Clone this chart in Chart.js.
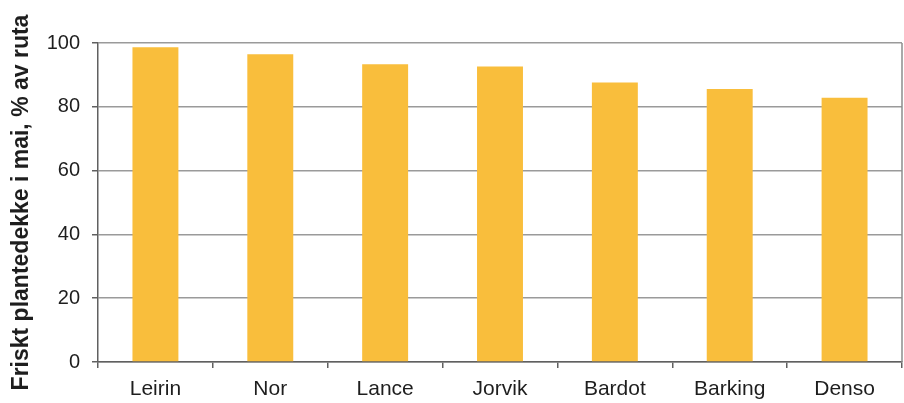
<!DOCTYPE html>
<html>
<head>
<meta charset="utf-8">
<script src="https://cdn.jsdelivr.net/npm/chart.js@4"></script>
<style>
  html, body { margin: 0; padding: 0; background: #fff; }
  #wrap { width: 904px; height: 403px; }
</style>
</head>
<body>
<div id="wrap"><canvas id="myChart"></canvas></div>
<script>
const labels = ['Leirin', 'Nor', 'Lance', 'Jorvik', 'Bardot', 'Barking', 'Denso']
const values = [98.7, 96.5, 93.3, 92.6, 87.6, 85.6, 82.8]
const yTicks = [0, 20, 40, 60, 80, 100]

// right-hand frame of the plot area
const frame = {
    id: 'frame',
    afterDraw(chart) {
        const a = chart.chartArea
        const ctx = chart.ctx
        ctx.save()
        ctx.strokeStyle = '#8c8c8c'
        ctx.lineWidth = 1.5
        ctx.beginPath()
        ctx.moveTo(a.right, a.top)
        ctx.lineTo(a.right, a.bottom)
        ctx.stroke()
        ctx.restore()
    }
}

const data = {
    labels: labels,
    datasets: [{
        data: values,
        backgroundColor: '#F9BE3C',
        borderWidth: 0,
        barPercentage: 0.4,
        categoryPercentage: 1.0
    }]
}

const config = {
    type: 'bar',
    data: data,
    plugins: [frame],
    options: {
        responsive: true,
        maintainAspectRatio: false,
        animation: false,
        layout: { padding: { left: 0, top: 43, right: 2, bottom: 0 } },
        plugins: { legend: { display: false }, tooltip: { enabled: false } },
        scales: {
            x: {
                grid: {
                    offset: true,
                    drawOnChartArea: false,
                    drawTicks: true,
                    tickLength: 6,
                    color: '#606060',
                    lineWidth: 1.5
                },
                border: { color: '#606060', width: 1.5 },
                ticks: {
                    color: '#1e1e1e',
                    padding: 9,
                    font: { family: 'Liberation Sans', size: 21 }
                },
                afterFit(s) { s.height = 41 }
            },
            y: {
                min: 0,
                max: 100,
                afterBuildTicks(s) { s.ticks = yTicks.map(v => ({ value: v })) },
                grid: {
                    color: '#9a9a9a',
                    lineWidth: 1.5,
                    tickLength: 6,
                    tickColor: '#606060'
                },
                border: { color: '#606060', width: 1.5 },
                ticks: {
                    color: '#1e1e1e',
                    padding: 12,
                    font: { family: 'Liberation Sans', size: 20 }
                },
                title: {
                    display: true,
                    text: 'Friskt plantedekke i mai, % av ruta',
                    color: '#1e1e1e',
                    padding: { top: 8, bottom: 0 },
                    font: { family: 'Liberation Sans', size: 23, weight: 'bold' }
                },
                afterFit(s) { s.width = 98 }
            }
        }
    }
}

const myChart = new Chart(document.getElementById('myChart'), config)
</script>
</body>
</html>
